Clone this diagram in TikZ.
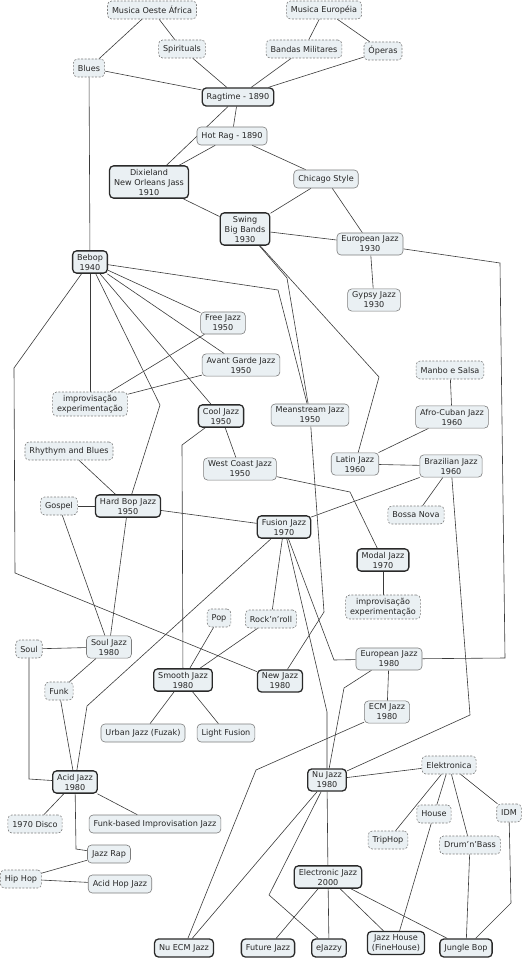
\documentclass[tikz,border=0pt]{standalone}
\usepackage{fontspec}
\setmainfont{DejaVu Sans}
\usepackage{xcolor}
\usetikzlibrary{backgrounds}
\definecolor{boxfill}{HTML}{EAF0F3}
\definecolor{thinline}{HTML}{7D7D7D}
\definecolor{darkline}{HTML}{2A2A2A}
\definecolor{linkline}{HTML}{3A3A3A}
\begin{document}
\begin{tikzpicture}[x=1pt,y=-1pt,
  box/.style={fill=boxfill,rounded corners=4pt,align=center,inner xsep=4.5pt,inner ysep=3pt,
    minimum height=18pt,font=\fontsize{8.1}{10}\selectfont,text=black!85},
  era/.style={box,draw=darkline,line width=1.3pt},
  sub/.style={box,draw=thinline,line width=0.6pt},
  influence/.style={box,draw=thinline,line width=0.6pt,dash pattern=on 2pt off 1.5pt},
  link/.style={draw=linkline,line width=0.6pt}]
\useasboundingbox (0,0) rectangle (524,960);
\node[influence] (oeste) at (152,10) {Musica Oeste África};
\node[influence] (spirituals) at (182,49) {Spirituals};
\node[influence] (blues) at (89,68) {Blues};
\node[influence] (europeia) at (324,10) {Musica Européia};
\node[influence] (bandas) at (304,49) {Bandas Militares};
\node[influence] (operas) at (383,51) {Óperas};
\node[era] (ragtime) at (238,97) {Ragtime - 1890};
\node[sub] (hotrag) at (232,136) {Hot Rag - 1890};
\node[era] (dixie) at (149,182) {Dixieland\\New Orleans Jass\\1910};
\node[sub] (chicago) at (326,179) {Chicago Style};
\node[era] (swing) at (245,229) {Swing\\Big Bands\\1930};
\node[sub] (euro30) at (370,244) {European Jazz\\1930};
\node[sub] (gypsy) at (374,300) {Gypsy Jazz\\1930};
\node[era] (bebop) at (90,262) {Bebop\\1940};
\node[sub] (free) at (223,323) {Free Jazz\\1950};
\node[sub] (avant) at (241,365) {Avant Garde Jazz\\1950};
\node[influence] (improvA) at (90,404) {improvisação\\experimentação};
\node[era] (cool) at (221,416) {Cool Jazz\\1950};
\node[sub] (mainstream) at (310,415) {Meanstream Jazz\\1950};
\node[influence] (mambo) at (450,370) {Manbo e Salsa};
\node[sub] (afro) at (452,417) {Afro-Cuban Jazz\\1960};
\node[sub] (latin) at (355,464) {Latin Jazz\\1960};
\node[sub] (brazil) at (451,466) {Brazilian Jazz\\1960};
\node[influence] (rnb) at (69,451) {Rhythym and Blues};
\node[sub] (westcoast) at (240,469) {West Coast Jazz\\1950};
\node[era] (hardbop) at (128,506) {Hard Bop Jazz\\1950};
\node[influence] (gospel) at (59,506) {Gospel};
\node[era] (fusion) at (284,527) {Fusion Jazz\\1970};
\node[influence] (bossa) at (416,515) {Bossa Nova};
\node[era] (modal) at (383,560) {Modal Jazz\\1970};
\node[influence] (improvB) at (383,607) {improvisação\\experimentação};
\node[influence] (pop) at (219,618) {Pop};
\node[influence] (rock) at (271,619) {Rock'n'roll};
\node[sub] (souljazz) at (109,647) {Soul Jazz\\1980};
\node[influence] (soul) at (29,649) {Soul};
\node[era] (smooth) at (183,680) {Smooth Jazz\\1980};
\node[era] (newjazz) at (280,681) {New Jazz\\1980};
\node[sub] (euro80) at (389,659) {European Jazz\\1980};
\node[influence] (funk) at (59,691) {Funk};
\node[sub] (ecm) at (387,712) {ECM Jazz\\1980};
\node[sub] (urban) at (143,733) {Urban Jazz (Fuzak)};
\node[sub] (light) at (226,733) {Light Fusion};
\node[era] (acid) at (75,782) {Acid Jazz\\1980};
\node[era] (nujazz) at (327,780) {Nu Jazz\\1980};
\node[influence] (elektronica) at (449,765) {Elektronica};
\node[influence] (disco) at (35,824) {1970 Disco};
\node[sub] (funkbased) at (155,824) {Funk-based Improvisation Jazz};
\node[influence] (house) at (434,814) {House};
\node[influence] (idm) at (509,813) {IDM};
\node[influence] (triphop) at (388,840) {TripHop};
\node[influence] (dnb) at (470,845) {Drum'n'Bass};
\node[sub] (jazzrap) at (109,854) {Jazz Rap};
\node[influence] (hiphop) at (21,879) {Hip Hop};
\node[sub] (acidhop) at (120,884) {Acid Hop Jazz};
\node[era] (electronic) at (328,877) {Electronic Jazz\\2000};
\node[era] (nuecm) at (184,948) {Nu ECM Jazz};
\node[era] (future) at (268,948) {Future Jazz};
\node[era] (ejazzy) at (329,948) {eJazzy};
\node[era] (jazzhouse) at (396,943) {Jazz House\\(FineHouse)};
\node[era] (jungle) at (466,948) {Jungle Bop};
\begin{scope}[on background layer]
\draw[link] (oeste) -- (blues);
\draw[link] (oeste) -- (spirituals);
\draw[link] (spirituals) -- (ragtime);
\draw[link] (blues) -- (ragtime);
\draw[link] (europeia) -- (bandas);
\draw[link] (europeia) -- (operas);
\draw[link] (bandas) -- (ragtime);
\draw[link] (operas) -- (ragtime);
\draw[link] (blues) -- (bebop);
\draw[link] (ragtime) -- (hotrag);
\draw[link] (ragtime) -- (dixie);
\draw[link] (hotrag) -- (dixie);
\draw[link] (hotrag) -- (chicago);
\draw[link] (dixie) -- (swing);
\draw[link] (chicago) -- (swing);
\draw[link] (chicago) -- (euro30);
\draw[link] (swing) -- (euro30);
\draw[link] (euro30) -- (gypsy);
\draw[link] (euro30) -- (500,263) -- (505,658) -- (euro80);
\draw[link] (swing) -- (287,278) -- (mainstream);
\draw[link] (swing) -- (379,377) -- (latin);
\draw[link] (bebop) -- (278,290) -- (mainstream);
\draw[link] (bebop) -- (free);
\draw[link] (bebop) -- (avant);
\draw[link] (bebop) -- (cool);
\draw[link] (bebop) -- (improvA);
\draw[link] (bebop) -- (160,405) -- (hardbop);
\draw[link] (bebop) -- (14,368) -- (15,573) -- (newjazz);
\draw[link] (free) -- (improvA);
\draw[link] (avant) -- (improvA);
\draw[link] (cool) -- (westcoast);
\draw[link] (cool) -- (182,445) -- (smooth);
\draw[link] (westcoast) -- (350,492) -- (modal);
\draw[link] (mainstream) -- (324,612) -- (newjazz);
\draw[link] (mambo) -- (afro);
\draw[link] (afro) -- (latin);
\draw[link] (latin) -- (brazil);
\draw[link] (brazil) -- (fusion);
\draw[link] (brazil) -- (bossa);
\draw[link] (brazil) -- (470,715) -- (nujazz);
\draw[link] (modal) -- (improvB);
\draw[link] (hardbop) -- (rnb);
\draw[link] (hardbop) -- (gospel);
\draw[link] (hardbop) -- (fusion);
\draw[link] (hardbop) -- (souljazz);
\draw[link] (gospel) -- (souljazz);
\draw[link] (fusion) -- (87,706) -- (acid);
\draw[link] (fusion) -- (rock);
\draw[link] (fusion) -- (334,660) -- (euro80);
\draw[link] (fusion) -- (327,712) -- (nujazz);
\draw[link] (euro80) -- (ecm);
\draw[link] (euro80) -- (344,688) -- (nujazz);
\draw[link] (ecm) -- (256,770) -- (nuecm);
\draw[link] (smooth) -- (pop);
\draw[link] (smooth) -- (rock);
\draw[link] (smooth) -- (urban);
\draw[link] (smooth) -- (light);
\draw[link] (souljazz) -- (soul);
\draw[link] (souljazz) -- (funk);
\draw[link] (soul) -- (29,779) -- (acid);
\draw[link] (funk) -- (acid);
\draw[link] (acid) -- (disco);
\draw[link] (acid) -- (funkbased);
\draw[link] (acid) -- (76,849) -- (jazzrap);
\draw[link] (jazzrap) -- (hiphop);
\draw[link] (hiphop) -- (acidhop);
\draw[link] (nujazz) -- (nuecm);
\draw[link] (nujazz) -- (269,895) -- (ejazzy);
\draw[link] (nujazz) -- (elektronica);
\draw[link] (nujazz) -- (electronic);
\draw[link] (elektronica) -- (triphop);
\draw[link] (elektronica) -- (house);
\draw[link] (elektronica) -- (dnb);
\draw[link] (elektronica) -- (idm);
\draw[link] (house) -- (jazzhouse);
\draw[link] (dnb) -- (jungle);
\draw[link] (idm) -- (511,903) -- (jungle);
\draw[link] (electronic) -- (future);
\draw[link] (electronic) -- (ejazzy);
\draw[link] (electronic) -- (jazzhouse);
\draw[link] (electronic) -- (jungle);
\end{scope}
\end{tikzpicture}
\end{document}
